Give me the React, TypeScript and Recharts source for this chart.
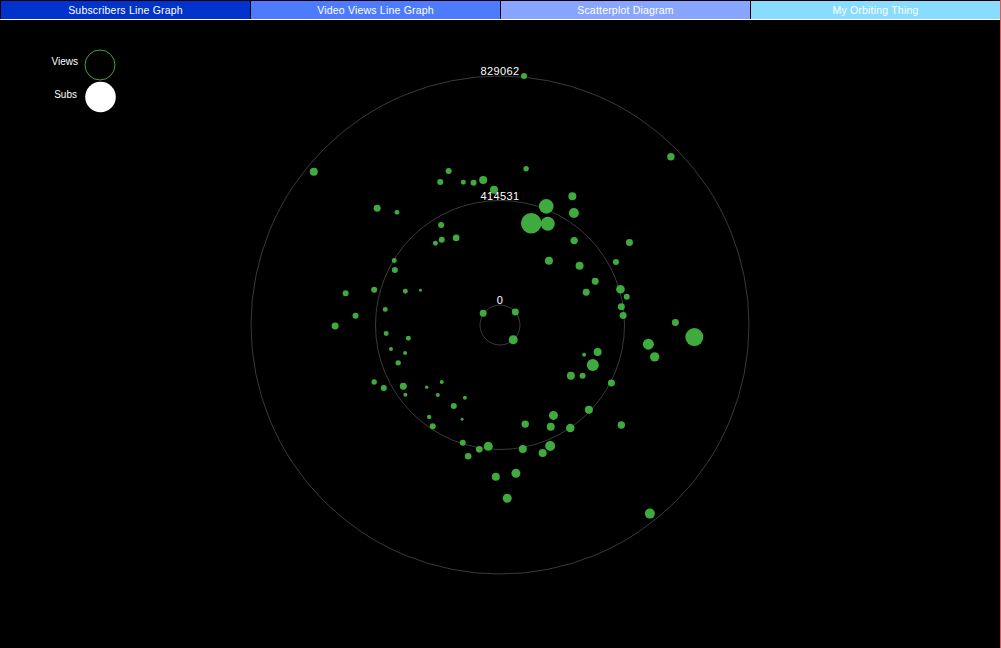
import { ScatterChart, Scatter, XAxis, YAxis, ZAxis, ReferenceDot } from "recharts";

// ─── Data ─────────────────────────────────────────────────────────────────────

const TABS = [
  "Subscribers Line Graph",
  "Video Views Line Graph",
  "Scatterplot Diagram",
  "My Orbiting Thing",
];
const TAB_COLORS = ["#0033cc", "#4d7bff", "#88a5ff", "#88ddff"];

// orbit rings, in views
const RING_VALUES = [0, 414531, 829062];

// channel position on the orbit, thousands of views (x right, y up)
const viewsX = [
  80, -620, -171, -199, -122, -88, -56, -20, -409, -343,
  -196, -146, -194, -215, -352, -350, -514, -419, -315, -265,
  -481, -382, -549, -56, 87, 569, 241, 154, 246, 104,
  159, 247, 431, 163, 265, 386, 317, 287, 401, 422,
  404, 410, 584, 51, -379, -305, -363, -316, -339, -419,
  -387, -322, -315, -244, -194, -207, -117, -154, -126, -236,
  -224, -124, -39, -69, -106, -14, 44, 647, 494, 515,
  280, 325, 309, 236, 275, 371, 178, 84, 169, 234,
  296, 404, 76, 167, 142, 53, 24, 499,
];
const viewsY = [
  829, 510, 513, 476, 475, 474, 483, 450, 389, 375,
  333, 290, 284, 272, 215, 183, 106, 117, 112, 116,
  31, 52, -3, 39, 520, 560, 429, 395, 373, 339,
  337, 281, 275, 214, 197, 210, 146, 109, 119, 94,
  61, 32, 8, 43, -28, -44, -80, -93, -126, -190,
  -210, -204, -232, -207, -190, -233, -242, -270, -314, -306,
  -337, -392, -404, -414, -437, -505, -49, -40, -64, -106,
  -99, -90, -133, -169, -169, -193, -301, -330, -339, -343,
  -282, -333, -413, -403, -426, -494, -577, -628,
];
// subscribers, thousands
const subsK = [
  90, 160, 90, 90, 62, 90, 160, 160, 122, 62,
  90, 109, 90, 62, 62, 90, 90, 90, 62, 22,
  90, 62, 122, 122, 73, 137, 160, 533, 250, 1061,
  490, 137, 122, 160, 160, 90, 122, 122, 185, 90,
  122, 122, 122, 122, 62, 62, 40, 40, 73, 73,
  90, 122, 40, 29, 40, 40, 40, 90, 22, 48,
  90, 90, 202, 109, 109, 160, 202, 810, 302, 221,
  40, 160, 360, 160, 90, 122, 202, 137, 160, 185,
  160, 137, 160, 250, 160, 202, 202, 250,
];

const channels = viewsX.map((x, i) => ({
  x: x * 1000,
  y: viewsY[i] * 1000,
  subs: subsK[i],
}));

// ─── Layout ───────────────────────────────────────────────────────────────────

const WIDTH = 1001;
const HEIGHT = 648;
const CX = 500;
const CY = 325;
const PLOT_R = 249;
const MIN_RING_R = 20;
const MAX_VIEWS = RING_VALUES[RING_VALUES.length - 1];
const FONT = "'Liberation Sans', Arial, sans-serif";
const DOT_FILL = "rgba(68, 186, 68, 0.92)";

function Tabs() {
  return (
    <>
      {TABS.map((t, i) => (
        <div
          key={t}
          style={{
            position: "absolute",
            left: i * 250 + 1,
            top: 1,
            width: 249,
            height: 18,
            background: TAB_COLORS[i],
            color: "#fff",
            fontFamily: FONT,
            fontSize: 10.5,
            letterSpacing: 0.2,
            lineHeight: "19px",
            textAlign: "center",
          }}
        >
          {t}
        </div>
      ))}
      <div
        style={{
          position: "absolute",
          left: 0,
          top: 19,
          width: WIDTH,
          height: 1,
          background: "#fff",
        }}
      />
    </>
  );
}

function Legend() {
  return (
    <svg
      width={140}
      height={120}
      style={{ position: "absolute", left: 0, top: 0 }}
    >
      <text x={78} y={65} fill="#fff" fontSize={10} fontFamily={FONT} textAnchor="end">
        Views
      </text>
      <circle cx={100} cy={65} r={15} fill="none" stroke="#3aaa3a" strokeWidth={1} />
      <text x={77} y={98} fill="#fff" fontSize={10} fontFamily={FONT} textAnchor="end">
        Subs
      </text>
      <circle cx={100.5} cy={97} r={15.3} fill="#fff" />
    </svg>
  );
}

export default function App() {
  return (
    <div
      style={{
        position: "fixed",
        left: 0,
        top: 0,
        width: WIDTH,
        height: HEIGHT,
        background: "#000",
        overflow: "hidden",
      }}
    >
      <ScatterChart
        width={WIDTH}
        height={HEIGHT}
        margin={{
          top: CY - PLOT_R,
          bottom: HEIGHT - CY - PLOT_R,
          left: CX - PLOT_R,
          right: WIDTH - CX - PLOT_R,
        }}
        style={{ position: "absolute", left: 0, top: 0 }}
      >
        <XAxis type="number" dataKey="x" domain={[-MAX_VIEWS, MAX_VIEWS]} hide />
        <YAxis type="number" dataKey="y" domain={[-MAX_VIEWS, MAX_VIEWS]} hide />
        <ZAxis type="number" dataKey="subs" domain={[0, 1100]} range={[0, Math.PI * 110]} />

        {RING_VALUES.map((v) => (
          <ReferenceDot
            key={v}
            x={0}
            y={0}
            r={Math.max(MIN_RING_R, (PLOT_R * v) / MAX_VIEWS)}
            fill="none"
            stroke="#3a3a3a"
            strokeWidth={1}
            ifOverflow="visible"
            label={{
              value: String(v),
              position: "top",
              offset: 1,
              fill: "#fff",
              fontSize: 11,
              fontFamily: FONT,
              letterSpacing: 0.4,
            }}
          />
        ))}

        <Scatter
          data={channels}
          fill={DOT_FILL}
          shape="circle"
          isAnimationActive={false}
        />
      </ScatterChart>

      <Tabs />
      <Legend />
      <div
        style={{
          position: "absolute",
          left: 1000,
          top: 0,
          width: 1,
          height: HEIGHT,
          background: "#e05a5a",
        }}
      />
    </div>
  );
}
